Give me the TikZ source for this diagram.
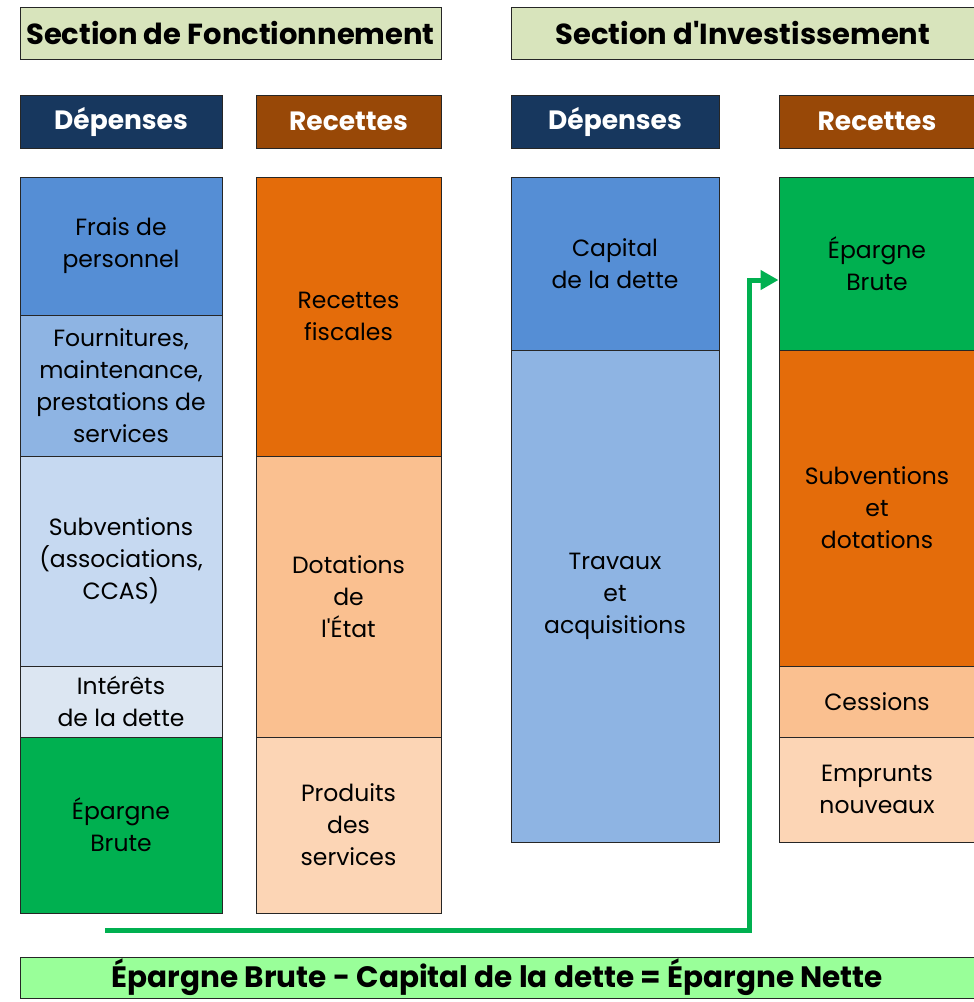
\documentclass[tikz,border=0pt]{standalone}
\usepackage{fontspec}
\newfontfamily\pop{Poppins}
\usetikzlibrary{arrows.meta}
\definecolor{secbg}{HTML}{D8E4BC}
\definecolor{depbg}{HTML}{17375E}
\definecolor{recbg}{HTML}{984807}
\definecolor{blueA}{HTML}{558ED5}
\definecolor{blueB}{HTML}{8EB4E3}
\definecolor{blueC}{HTML}{C6D9F1}
\definecolor{blueD}{HTML}{DCE6F2}
\definecolor{greenE}{HTML}{00B050}
\definecolor{orA}{HTML}{E46C0A}
\definecolor{orB}{HTML}{FAC090}
\definecolor{orC}{HTML}{FCD5B5}
\definecolor{lgreen}{HTML}{99FF99}
\begin{document}
\begin{tikzpicture}[x=1pt,y=-1pt,
  cell/.style={draw=black!85, line width=1pt, align=center, inner sep=0pt,
    font=\pop\fontsize{23.5}{32}\selectfont, text=black},
  sechead/.style={cell, fill=secbg, font=\pop\fontsize{29}{32}\selectfont\bfseries},
  colhead/.style={cell, font=\pop\fontsize{26.5}{32}\selectfont\bfseries, text=white},
  link/.style={draw=greenE, line width=5pt}
]
\clip (0,0) rectangle (974,1002);
% section headers
\node[sechead, minimum width=421pt, minimum height=52pt] (secF) at (230.5,33) {Section de Fonctionnement};
\node[sechead, minimum width=464pt, minimum height=52pt] (secI) at (743,33) {Section d'Investissement};
% column headers
\node[colhead, fill=depbg, minimum width=202pt, minimum height=53pt] (depF) at (121,121.5) {Dépenses};
\node[colhead, fill=recbg, minimum width=185pt, minimum height=53pt] (recF) at (348.5,121.5) {Recettes};
\node[colhead, fill=depbg, minimum width=208pt, minimum height=53pt] (depI) at (615,121.5) {Dépenses};
\node[colhead, fill=recbg, minimum width=196pt, minimum height=53pt] (recI) at (877,121.5) {Recettes};
% Fonctionnement - dépenses
\node[cell, fill=blueA, minimum width=202pt, minimum height=138pt] (fpers) at (121,246) {Frais de\\personnel};
\node[cell, fill=blueB, minimum width=202pt, minimum height=141pt] (fourn) at (121,385.5) {Fournitures,\\maintenance,\\prestations de\\services};
\node[cell, fill=blueC, minimum width=202pt, minimum height=210pt] (subv) at (121,561) {Subventions\\(associations,\\CCAS)};
\node[cell, fill=blueD, minimum width=202pt, minimum height=71pt] (inter) at (121,701.5) {Intérêts\\de la dette};
\node[cell, fill=greenE, minimum width=202pt, minimum height=176pt] (epF) at (121,825) {Épargne\\Brute};
% Fonctionnement - recettes
\node[cell, fill=orA, minimum width=185pt, minimum height=279pt] (fisc) at (348.5,316.5) {Recettes\\fiscales};
\node[cell, fill=orB, minimum width=185pt, minimum height=281pt] (dot) at (348.5,596.5) {Dotations\\de\\l'État};
\node[cell, fill=orC, minimum width=185pt, minimum height=176pt] (prod) at (348.5,825) {Produits\\des\\services};
% Investissement - dépenses
\node[cell, fill=blueA, minimum width=208pt, minimum height=173pt] (capit) at (615,263.5) {Capital\\de la dette};
\node[cell, fill=blueB, minimum width=208pt, minimum height=492pt] (trav) at (615,596) {Travaux\\et\\acquisitions};
% Investissement - recettes
\node[cell, fill=greenE, minimum width=196pt, minimum height=173pt] (epI) at (877,263.5) {Épargne\\Brute};
\node[cell, fill=orA, minimum width=196pt, minimum height=316pt] (subvI) at (877,508) {Subventions\\et\\dotations};
\node[cell, fill=orB, minimum width=196pt, minimum height=71pt] (cess) at (877,701.5) {Cessions};
\node[cell, fill=orC, minimum width=196pt, minimum height=105pt] (empr) at (877,789.5) {Emprunts\\nouveaux};
% bottom formula
\node[cell, fill=lgreen, minimum width=955pt, minimum height=41pt, font=\pop\fontsize{29.5}{32}\selectfont\bfseries] (form) at (497.5,977.5) {Épargne Brute - Capital de la dette = Épargne Nette};
% green arrow
\coordinate (astart) at (105,930);
\coordinate (acorner) at (749,930);
\coordinate (aend) at (epI.west |- 0,280);
\draw[link, -{Triangle[length=18pt,width=19pt]}] (astart) -- (acorner) |- (aend);
\end{tikzpicture}
\end{document}
